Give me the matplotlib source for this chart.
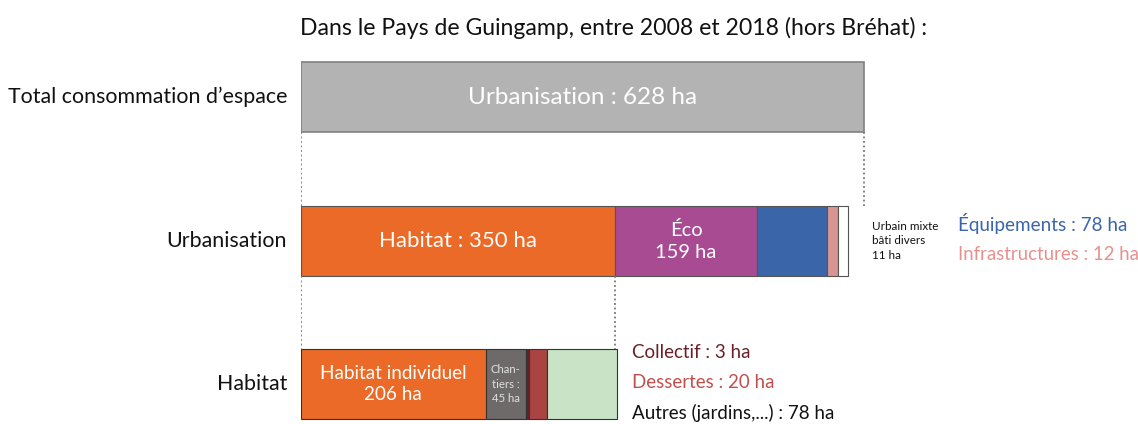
import matplotlib.pyplot as plt

plt.rcParams['font.family'] = ['Lato', 'DejaVu Sans']

# Data (ha)
total_label = "Urbanisation : 628 ha"
total_value = 628

urba_names = ["Habitat", "Éco", "Équipements", "Infrastructures", "Urbain mixte"]
urba_values = [350, 159, 78, 12, 11]
urba_colors = ["#eb6a27", "#a94b93", "#3a65a8", "#d99591", "#ffffff"]

hab_names = ["Habitat individuel", "Chantiers", "Collectif", "Dessertes", "Autres"]
hab_values = [206, 45, 3, 20, 78]
hab_colors = ["#eb6a27", "#6e6a69", "#6b1f28", "#a94442", "#c8e3c5"]

row_labels = ["Total consommation d’espace", "Urbanisation", "Habitat"]

# layout in pixel units
W, H = 1138, 424
x0 = 301
scale = 563 / total_value  # px per ha
px = 1 / scale
rows_y = [97, 241, 384]
bar_h = 70

fig = plt.figure(figsize=(W / 100, H / 100), dpi=100)
ax = fig.add_axes([x0 / W, 0, (W - x0) / W, 1])
ax.set_xlim(0, (W - x0) * px)
ax.set_ylim(H, 0)
ax.axis('off')

fig.text(614 / W, 1 - 28 / H, "Dans le Pays de Guingamp, entre 2008 et 2018 (hors Bréhat) :",
         ha='center', va='center', fontsize=16.6, color='#111111')

for y, lab in zip(rows_y, row_labels):
    ax.text(-14 * px, y, lab, ha='right', va='center', fontsize=15.4,
            color='#111111', clip_on=False)

# total bar
ax.barh(rows_y[0], total_value, height=bar_h, left=0, color='#b3b3b3',
        edgecolor='#808080', linewidth=1.2)
ax.text(total_value / 2, rows_y[0], total_label, ha='center', va='center',
        fontsize=17.5, color='white')

# urbanisation bar
left = 0
urba_lefts = []
for v, c in zip(urba_values, urba_colors):
    ax.barh(rows_y[1], v, height=bar_h, left=left, color=c,
            edgecolor='#555555', linewidth=0.8)
    urba_lefts.append(left)
    left += v
urba_end = left
ax.text(urba_lefts[0] + urba_values[0] / 2, rows_y[1], f"Habitat : {urba_values[0]} ha",
        ha='center', va='center', fontsize=16, color='white')
ax.text(urba_lefts[1] + urba_values[1] / 2, rows_y[1], f"Éco\n{urba_values[1]} ha",
        ha='center', va='center', fontsize=14.5, color='white', linespacing=1.3)
ax.text(urba_end + 24 * px, rows_y[1], f"Urbain mixte\nbâti divers\n{urba_values[4]} ha",
        ha='left', va='center', fontsize=8.4, color='#111111', linespacing=1.35)
ax.text(urba_end + 110 * px, rows_y[1] - 17, f"Équipements : {urba_values[2]} ha",
        ha='left', va='center', fontsize=13.6, color='#3b64ad')
ax.text(urba_end + 110 * px, rows_y[1] + 14, f"Infrastructures : {urba_values[3]} ha",
        ha='left', va='center', fontsize=13.4, color='#e8918c')

# habitat bar
left = 0
hab_lefts = []
for v, c in zip(hab_values, hab_colors):
    ax.barh(rows_y[2], v, height=bar_h, left=left, color=c,
            edgecolor='#333333', linewidth=0.8)
    hab_lefts.append(left)
    left += v
hab_end = left
ax.text(hab_lefts[0] + hab_values[0] / 2, rows_y[2], f"Habitat individuel\n{hab_values[0]} ha",
        ha='center', va='center', fontsize=13.6, color='white', linespacing=1.3)
ax.text(hab_lefts[1] + hab_values[1] / 2, rows_y[2], f"Chan-\ntiers :\n{hab_values[1]} ha",
        ha='center', va='center', fontsize=8.2, color='#e0e0e0', linespacing=1.4)
side = [("Collectif", hab_values[2], '#6b1f28', -31),
        ("Dessertes", hab_values[3], '#c0504d', -1),
        ("Autres (jardins,...)", hab_values[4], '#111111', 29)]
for name, v, c, dy in side:
    ax.text(hab_end + 15 * px, rows_y[2] + dy, f"{name} : {v} ha",
            ha='left', va='center', fontsize=13.5, color=c)

# dotted connectors
dot = dict(color='#777777', linestyle=(0, (1, 1.5)), linewidth=1.3)
y_a, y_b = rows_y[0] + bar_h / 2, rows_y[1] - bar_h / 2
ax.plot([0, 0], [y_a, y_b], **dot)
ax.plot([total_value, total_value], [y_a, y_b], **dot)
y_a, y_b = rows_y[1] + bar_h / 2, rows_y[2] - bar_h / 2
ax.plot([0, 0], [y_a, y_b], **dot)
ax.plot([urba_values[0], urba_values[0]], [y_a, y_b], **dot)

fig.savefig('out.png', dpi=100, facecolor='white')
